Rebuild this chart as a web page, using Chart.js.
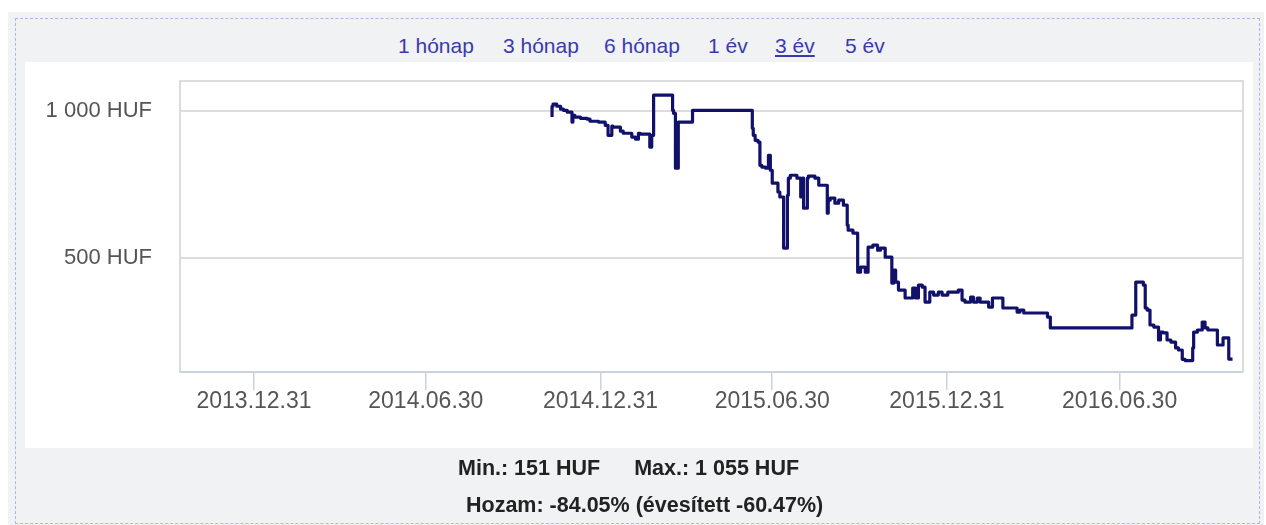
<!DOCTYPE html>
<html><head><meta charset="utf-8">
<script src="https://cdn.jsdelivr.net/npm/chart.js@4.4.1/dist/chart.umd.min.js"></script>
<style>
html,body{margin:0;padding:0;background:#fff;width:1266px;height:525px;overflow:hidden;font-family:"Liberation Sans",Arial,sans-serif;}
#outer{position:absolute;left:8px;top:12px;width:1256px;height:513px;background:#f1f2f4;}
#dash{position:absolute;left:15px;top:18px;width:1245px;height:506px;border:1px dashed #b4b4e4;box-sizing:border-box;}
#panel{position:absolute;left:25px;top:62px;width:1228px;height:386px;background:#fff;}
.lnk{position:absolute;top:34px;height:24px;line-height:24px;font-size:21px;white-space:nowrap;color:#3a3aae;}
.lnk.sel{text-decoration:underline;}
#wrap{position:absolute;left:0;top:0;width:1266px;height:525px;}
.info{position:absolute;font-weight:bold;font-size:21.5px;color:#222;white-space:nowrap;}
</style></head>
<body>
<div id="outer"></div>
<div id="dash"></div>
<div id="panel"></div>
<span class="lnk" style="left:398px">1 hónap</span>
<span class="lnk" style="left:503px">3 hónap</span>
<span class="lnk" style="left:604px">6 hónap</span>
<span class="lnk" style="left:708px">1 év</span>
<span class="lnk sel" style="left:775px">3 év</span>
<span class="lnk" style="left:845px">5 év</span>
<div id="wrap"><canvas id="c" width="1266" height="525"></canvas></div>
<div class="info" style="top:456px;left:458px;">Min.: 151 HUF<span style="margin-left:34px">Max.: 1 055 HUF</span></div>
<div class="info" style="top:493px;left:466px;">Hozam: -84.05% (évesített -60.47%)</div>
<script>
const dates = ['2014-11-10','2014-11-11','2014-11-15','2014-11-19','2014-11-22','2014-11-26','2014-12-01','2014-12-02','2014-12-04','2014-12-10',
'2014-12-17','2014-12-20','2014-12-29','2015-01-05','2015-01-08','2015-01-12','2015-01-13','2015-01-21','2015-01-24','2015-01-28',
'2015-02-02','2015-02-06','2015-02-09','2015-02-11','2015-02-14','2015-02-21','2015-02-23','2015-02-25','2015-02-27','2015-03-17',
'2015-03-18','2015-03-20','2015-03-22','2015-03-23','2015-03-25','2015-04-07','2015-04-08','2015-06-09','2015-06-10','2015-06-12',
'2015-06-15','2015-06-17','2015-06-19','2015-06-23','2015-06-26','2015-06-28','2015-06-30','2015-07-03','2015-07-06','2015-07-08',
'2015-07-12','2015-07-16','2015-07-17','2015-07-19','2015-07-21','2015-07-26','2015-07-30','2015-08-01','2015-08-02','2015-08-06',
'2015-08-07','2015-08-14','2015-08-18','2015-08-22','2015-08-27','2015-08-28','2015-08-30','2015-09-04','2015-09-08','2015-09-13',
'2015-09-17','2015-09-18','2015-09-23','2015-09-28','2015-10-01','2015-10-06','2015-10-09','2015-10-14','2015-10-19','2015-10-22',
'2015-10-27','2015-10-30','2015-11-03','2015-11-05','2015-11-07','2015-11-10','2015-11-17','2015-11-25','2015-11-28','2015-12-01',
'2015-12-05','2015-12-08','2015-12-13','2015-12-17','2015-12-22','2015-12-26','2016-01-01','2016-01-07','2016-01-12','2016-01-16',
'2016-01-19','2016-01-25','2016-01-28','2016-02-01','2016-02-04','2016-02-07','2016-02-13','2016-02-17','2016-02-20','2016-02-28',
'2016-03-04','2016-03-14','2016-03-17','2016-03-21','2016-03-25','2016-04-15','2016-04-18','2016-04-21','2016-07-13','2016-07-14',
'2016-07-17','2016-07-19','2016-07-25','2016-07-27','2016-07-29','2016-08-01','2016-08-05','2016-08-10','2016-08-12','2016-08-15',
'2016-08-19','2016-08-23','2016-08-28','2016-08-31','2016-09-04','2016-09-07','2016-09-15','2016-09-16','2016-09-20','2016-09-25',
'2016-09-28','2016-10-01','2016-10-11','2016-10-12','2016-10-17','2016-10-19','2016-10-23','2016-10-27'];
const prices = [980,1017,1024,1017,1007,1003,997,963,986,980,
976,973,966,963,952,918,949,946,932,925,
925,912,905,925,922,922,878,918,1055,1055,
1003,993,806,806,963,963,1003,1003,942,918,
901,895,816,810,806,850,799,755,755,725,
708,534,714,772,782,782,772,708,772,670,
772,779,772,748,748,653,697,704,687,697,
680,612,595,585,452,469,452,537,544,527,
534,503,503,415,459,418,391,364,398,364,
408,401,350,384,374,384,374,384,384,391,
357,350,367,350,364,350,350,333,364,364,
330,330,316,323,313,313,299,262,262,306,
306,418,418,408,330,323,272,265,221,248,
245,221,214,194,187,155,151,194,248,255,
282,262,255,204,204,228,228,156];
const xTickDates = ['2013-12-31','2014-06-30','2014-12-31','2015-06-30','2015-12-31','2016-06-30'];
const xTickLabels = ['2013.12.31','2014.06.30','2014.12.31','2015.06.30','2015.12.31','2016.06.30'];
const yTickValues = [500, 1000];
const yTickLabels = ['500 HUF', '1 000 HUF'];
const xRange = ['2013-10-14', '2016-11-07'];
const yRange = [112, 1103];

function day(s){const p=s.split('-').map(Number);return Date.UTC(p[0],p[1]-1,p[2])/86400000;}

const frame = {
  id:'frame',
  beforeDatasetsDraw(chart){
    const a=chart.chartArea, ctx=chart.ctx;
    ctx.save();ctx.strokeStyle='#dcdcdc';ctx.lineWidth=2;
    ctx.beginPath();ctx.moveTo(a.left,a.top);ctx.lineTo(a.right,a.top);ctx.lineTo(a.right,a.bottom);ctx.stroke();
    ctx.restore();
  }
};

new Chart(document.getElementById('c'), {
  type:'line',
  data:{datasets:[{
    data: dates.map((d,i)=>({x:day(d), y:prices[i]})),
    borderColor:'#11116c', borderWidth:3.2, pointRadius:0, tension:0, fill:false,
    stepped:'after', borderJoinStyle:'round', borderCapStyle:'butt'
  }]},
  options:{
    responsive:false, animation:false, devicePixelRatio:1,
    layout:{padding:{top:81,right:23,left:0,bottom:0}},
    plugins:{legend:{display:false}, tooltip:{enabled:false}, title:{display:false}},
    scales:{
      x:{type:'linear', min:day(xRange[0]), max:day(xRange[1]),
        afterBuildTicks(s){s.ticks=xTickDates.map(d=>({value:day(d)}));},
        afterFit(s){s.height=153;},
        grid:{drawOnChartArea:false, drawTicks:true, tickLength:18, color:'#c8d3e2', lineWidth:1.5},
        border:{color:'#c8d3e2', width:2},
        ticks:{autoSkip:false, maxRotation:0, padding:-2, color:'#555',
          font:{family:'"Liberation Sans", Arial, sans-serif', size:23},
          callback:(v,i)=>xTickLabels[i]}
      },
      y:{type:'linear', min:yRange[0], max:yRange[1],
        afterBuildTicks(s){s.ticks=yTickValues.map(v=>({value:v}));},
        afterFit(s){s.width=180;},
        grid:{color:'#dcdcdc', lineWidth:2, drawTicks:false},
        border:{display:true, color:'#dcdcdc', width:2},
        ticks:{padding:28, color:'#555',
          font:{family:'"Liberation Sans", Arial, sans-serif', size:22},
          callback:(v,i)=>yTickLabels[i]}
      }
    }
  },
  plugins:[frame]
});
</script>
</body></html>
